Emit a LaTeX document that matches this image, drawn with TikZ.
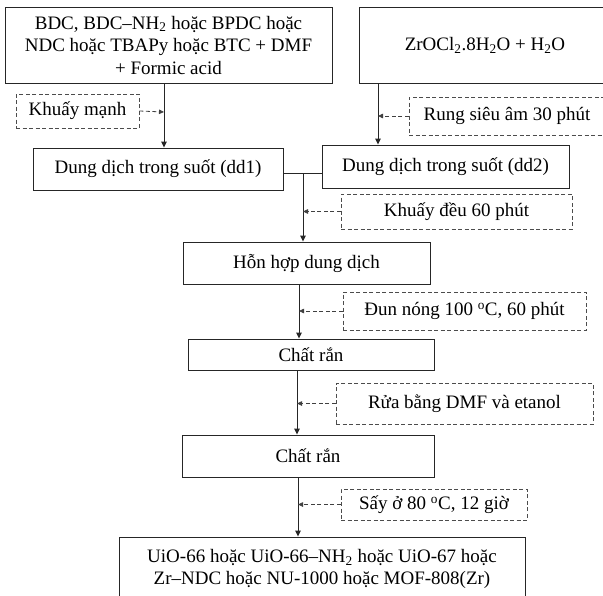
\documentclass[tikz,border=0pt]{standalone}
\usepackage{fontspec}
\setmainfont{Liberation Serif}
\usepackage{tikz}
\usetikzlibrary{arrows.meta, positioning, calc}

\begin{document}
\begin{tikzpicture}[x=1pt,y=-1pt,>={Triangle[length=6pt,width=5.5pt]},
  box/.style={draw=black!85, line width=0.9pt, align=center, inner sep=0pt,
    font=\fontsize{19}{22.5}\selectfont},
  note/.style={draw=black!70, dash pattern=on 4pt off 2.5pt, line width=0.8pt,
    align=center, inner sep=0pt, font=\fontsize{19}{22.5}\selectfont},
  flow/.style={->, draw=black!85, line width=0.9pt},
  feed/.style={-{Triangle[length=5pt,width=4.5pt]}, draw=black!75, dash pattern=on 4pt off 2.5pt, line width=0.8pt}]
\useasboundingbox (0,0) rectangle (603,595);
% The boxes
\node [box, minimum width=327, minimum height=76] (ligand) at (168.5,45)
  {BDC, BDC--NH\textsubscript{2} hoặc BPDC hoặc\\NDC hoặc TBAPy hoặc BTC + DMF\\+ Formic acid};
\node [box, minimum width=252, minimum height=76] (zr) at (485,45)
  {ZrOCl\textsubscript{2}.8H\textsubscript{2}O + H\textsubscript{2}O};
\node [box, minimum width=250, minimum height=42] (ddone) at (158,169) {Dung dịch trong suốt (dd1)};
\node [box, minimum width=247, minimum height=43] (ddtwo) at (445.5,166.5) {Dung dịch trong suốt (dd2)};
\node [box, minimum width=247, minimum height=42] (hop) at (306.5,263) {Hỗn hợp dung dịch};
\node [box, minimum width=246, minimum height=31] (ranone) at (311,354.5) {Chất rắn};
\node [box, minimum width=252, minimum height=42] (rantwo) at (308,456) {Chất rắn};
\node [box, minimum width=406, minimum height=64] (mof) at (322,569)
  {UiO-66 hoặc UiO-66--NH\textsubscript{2} hoặc UiO-67 hoặc\\Zr--NDC hoặc NU-1000 hoặc MOF-808(Zr)};
% The steps
\node [note, minimum width=123, minimum height=34] (khmanh) at (77.5,111) {Khuấy mạnh};
\node [note, minimum width=196, minimum height=38] (rung) at (507,116) {Rung siêu âm 30 phút};
\node [note, minimum width=231, minimum height=35] (khdeu) at (456.5,211.5) {Khuấy đều 60 phút};
\node [note, minimum width=243, minimum height=38] (dun) at (464.5,311) {Đun nóng 100 \textsuperscript{o}C, 60 phút};
\node [note, minimum width=257, minimum height=41] (rua) at (464.5,403.5) {Rửa bằng DMF và etanol};
\node [note, minimum width=186, minimum height=31] (say) at (434,504.5) {Sấy ở 80 \textsuperscript{o}C, 12 giờ};
% Joints
\coordinate (jone) at (164,112);
\coordinate (jtwo) at (378,116);
\coordinate (mix) at (303,173);
\coordinate (jfour) at (299,0);
\coordinate (jfive) at (297,0);
\coordinate (jsix) at (298,0);
% The flow
\draw [flow] (ligand.south -| jone) -- (ddone.north -| jone);
\draw [feed] (khmanh.east) -- (jone);
\draw [flow] (zr.south -| jtwo) -- (ddtwo.north -| jtwo);
\draw [feed] (rung.west) -- (jtwo);
\draw [draw=black!85, line width=0.9pt] (ddone.east |- mix) -- (ddtwo.west |- mix);
\draw [flow] (mix) -- (hop.north -| mix);
\draw [feed] (khdeu.west) -- (mix |- khdeu.west);
\draw [flow] (hop.south -| jfour) -- (ranone.north -| jfour);
\draw [feed] (dun.west) -- (jfour |- dun.west);
\draw [flow] (ranone.south -| jfive) -- (rantwo.north -| jfive);
\draw [feed] (rua.west) -- (jfive |- rua.west);
\draw [flow] (rantwo.south -| jsix) -- (mof.north -| jsix);
\draw [feed] (say.west) -- (jsix |- say.west);
\end{tikzpicture}
\end{document}
